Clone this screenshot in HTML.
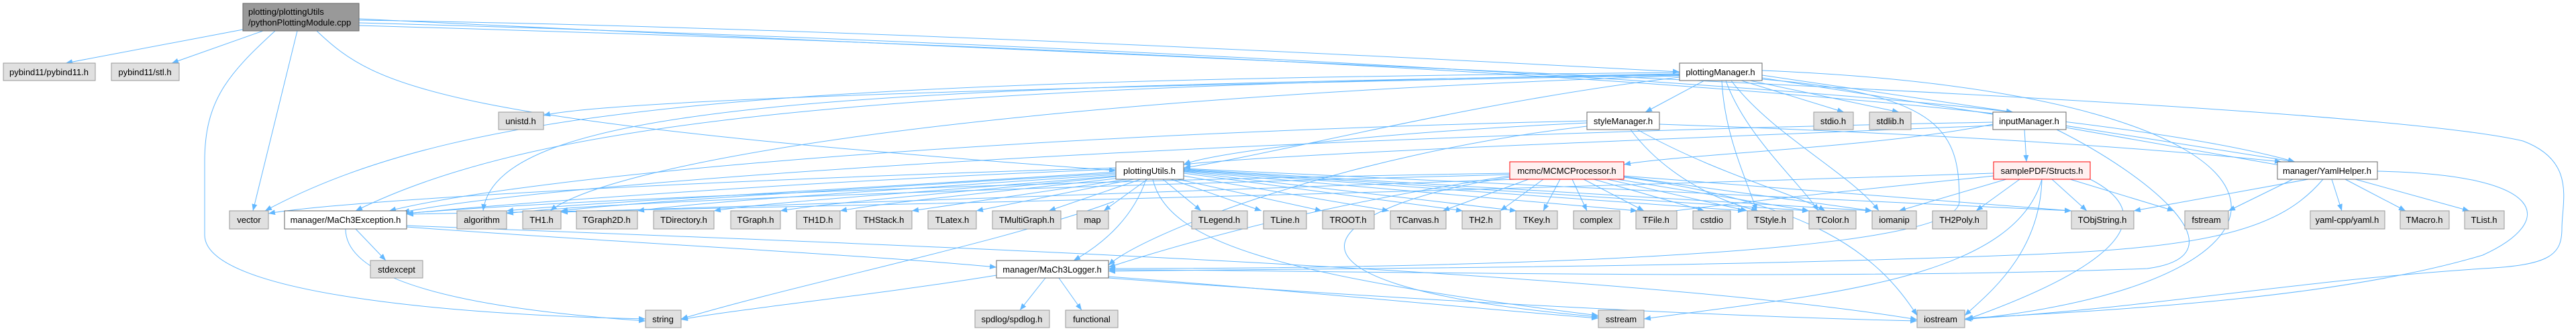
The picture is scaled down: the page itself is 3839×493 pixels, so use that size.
<!DOCTYPE html>
<html><head><meta charset="utf-8"><style>
html,body{margin:0;padding:0;background:#fff;}
svg{display:block;}
text{font-family:"Liberation Sans",sans-serif;font-size:13px;fill:#000;text-anchor:middle;}
.g{fill:#e0e0e0;stroke:#999;stroke-width:1;}
.w{fill:#fff;stroke:#666;stroke-width:1;}
.r{fill:#fff0f0;stroke:#f00;stroke-width:1;}
.d{fill:#999;stroke:#666;stroke-width:1;}
.e{fill:none;stroke:#63b8ff;stroke-width:1;}
</style></head><body>
<svg width="3839" height="493" viewBox="0 0 3839 493" xmlns="http://www.w3.org/2000/svg">
<defs><marker id="a" markerUnits="userSpaceOnUse" markerWidth="11" markerHeight="8" refX="10" refY="4" orient="auto"><path d="M0,0 L10,4 L0,8 z" fill="#63b8ff"/></marker></defs>
<g class="e" marker-end="url(#a)">
<!-- top -->
<path d="M362,44 L98,94"/>
<path d="M392,46 L256,94"/>
<path d="M443,46 L377,314"/>
<path d="M410,46 C340,110 305,150 305,240 L305,350 C305,440 700,470 962,475"/>
<path d="M472,46 C560,130 650,180 1663,254"/>
<path d="M535,30 C1200,40 2000,80 2503,107"/>
<path d="M535,34 C1500,60 2600,120 3000,167"/>
<path d="M535,38 C2000,80 3100,150 3420,241"/>
<path d="M535,28 C2000,100 3500,150 3760,210 C3840,240 3818,300 3818,340 C3818,380 3800,395 3700,400 C3400,420 3200,460 2928,475"/>
<!-- plottingManager -->
<path d="M2540,120 L2452,167"/>
<path d="M2595,120 L2748,167"/>
<path d="M2608,120 L2830,167"/>
<path d="M2626,112 L3000,167"/>
<path d="M2626,116 L3420,241"/>
<path d="M2566,120 C2570,200 2600,260 2618,314"/>
<path d="M2572,120 C2600,200 2680,270 2710,314"/>
<path d="M2580,120 C2640,200 2760,260 2800,314"/>
<path d="M2503,112 C1500,130 900,150 810,172"/>
<path d="M2503,108 C1200,120 700,150 395,314"/>
<path d="M2503,110 C1300,130 800,180 530,314"/>
<path d="M2503,111 C1300,130 740,150 720,314"/>
<path d="M2503,113 C1400,150 900,250 820,314"/>
<path d="M2626,118 C2900,140 2920,200 2920,300 C2920,400 1800,400 1652,400"/>
<path d="M2626,105 C3500,140 3500,420 2928,476"/>
<path d="M2503,115 C2200,150 1900,230 1764,250"/>
<!-- styleManager -->
<path d="M2430,193 C2480,260 2560,300 2620,314"/>
<path d="M2440,193 C2560,260 2680,290 2720,314"/>
<path d="M2365,180 C1500,200 800,260 580,314"/>
<path d="M2365,183 C2000,200 1800,230 1764,245"/>
<path d="M2473,185 C2900,200 3200,220 3400,241"/>
<path d="M2365,188 C2000,230 1700,350 1652,395"/>
<!-- inputManager -->
<path d="M3017,193 L3020,241"/>
<path d="M3079,190 L3420,250"/>
<path d="M2970,185 C2800,220 2500,230 2420,245"/>
<path d="M2970,187 C2400,210 1900,230 1764,245"/>
<path d="M3065,193 C3200,260 3350,380 3200,400 C2700,420 1800,400 1652,402"/>
<path d="M2970,182 C2000,200 900,260 600,316"/>
<!-- plottingUtils -->
<path d="M1663,250 C1000,270 500,300 400,318"/>
<path d="M1663,252 C1200,270 800,300 606,318"/>
<path d="M1663,256 C1300,280 900,300 755,314"/>
<path d="M1663,258 C1300,280 950,300 836,314"/>
<path d="M1663,260 C1300,285 1050,300 950,314"/>
<path d="M1663,262 C1400,285 1150,300 1064,314"/>
<path d="M1663,263 C1450,285 1250,300 1163,314"/>
<path d="M1670,265 C1500,285 1330,300 1252,314"/>
<path d="M1680,267 L1359,314"/>
<path d="M1690,267 L1455,314"/>
<path d="M1700,267 L1563,314"/>
<path d="M1710,267 L1645,314"/>
<path d="M1733,267 L1790,314"/>
<path d="M1745,267 L1880,314"/>
<path d="M1755,267 L1970,314"/>
<path d="M1764,262 L2070,314"/>
<path d="M1764,258 L2180,314"/>
<path d="M1764,256 L2260,314"/>
<path d="M1764,255 L2440,314"/>
<path d="M1764,254 L2600,314"/>
<path d="M1764,253 L2696,314"/>
<path d="M1764,252 L2790,314"/>
<path d="M1764,251 L3087,314"/>
<path d="M1708,267 C1690,320 1650,360 1600,388"/>
<path d="M1718,267 C1740,360 1900,410 2382,470"/>
<path d="M1660,300 C1500,360 1200,420 1015,475"/>
<!-- MCMC -->
<path d="M2250,258 C1500,270 800,300 606,318"/>
<path d="M2250,260 C1500,280 900,300 755,318"/>
<path d="M2260,267 C2000,280 1300,300 836,316"/>
<path d="M2278,267 L2150,314"/>
<path d="M2300,267 L2236,314"/>
<path d="M2325,267 L2300,314"/>
<path d="M2343,267 L2365,314"/>
<path d="M2360,267 L2450,314"/>
<path d="M2375,267 L2540,314"/>
<path d="M2395,267 L2604,314"/>
<path d="M2410,267 L2696,314"/>
<path d="M2420,263 L2790,314"/>
<path d="M2420,262 L3087,314"/>
<path d="M2250,262 C2000,300 1800,350 1652,398"/>
<path d="M2250,264 C2000,300 1800,420 2382,472"/>
<path d="M2420,264 C2700,300 2800,380 2857,470"/>
<!-- Structs -->
<path d="M2990,267 L2830,314"/>
<path d="M3010,267 L2945,314"/>
<path d="M3058,267 L3110,314"/>
<path d="M3085,267 L3240,314"/>
<path d="M3043,267 C3040,380 2960,440 2928,470"/>
<path d="M3115,267 C3200,310 3200,380 2930,476"/>
<path d="M2971,258 C2600,270 1700,300 606,319"/>
<path d="M2971,262 C2700,290 2600,300 2450,320"/>
<path d="M3043,267 C3000,420 2700,440 2450,475"/>
<!-- Yaml -->
<path d="M3417,267 L3321,314"/>
<path d="M3440,267 L3180,314"/>
<path d="M3475,267 L3490,314"/>
<path d="M3495,267 L3585,314"/>
<path d="M3510,267 L3680,314"/>
<path d="M3543,255 C3800,260 3810,330 3700,380 C3500,440 3200,460 2930,474"/>
<path d="M3462,267 C3400,340 3300,370 3000,380 C2500,400 1900,400 1652,404"/>
<!-- Exception -->
<path d="M530,341 L575,388"/>
<path d="M515,341 C515,420 700,460 962,478"/>
<path d="M606,338 C900,360 1300,380 1485,398"/>
<path d="M606,336 C1200,360 2400,400 2857,476"/>
<!-- Logger -->
<path d="M1558,414 L1520,462"/>
<path d="M1578,414 L1612,462"/>
<path d="M1485,410 C1300,440 1100,460 1015,476"/>
<path d="M1652,412 C1900,430 2200,460 2382,474"/>
<path d="M1652,414 C2000,440 2500,470 2857,478"/>
</g>
<!-- nodes -->
<rect class="d" x="362" y="5" width="173" height="41"/><text x="370" y="22" style="text-anchor:start">plotting/plottingUtils</text><text x="370" y="38" style="text-anchor:start">/pythonPlottingModule.cpp</text>
<g>
<rect class="g" x="5" y="94" width="137" height="26"/><text x="73" y="112">pybind11/pybind11.h</text>
<rect class="g" x="166" y="94" width="101" height="26"/><text x="216" y="112">pybind11/stl.h</text>
<rect class="g" x="743" y="167" width="67" height="26"/><text x="776" y="185">unistd.h</text>
<rect class="w" x="2503" y="94" width="123" height="26"/><text x="2564" y="112">plottingManager.h</text>
<rect class="w" x="2365" y="167" width="108" height="26"/><text x="2419" y="185">styleManager.h</text>
<rect class="g" x="2703" y="167" width="59" height="26"/><text x="2732" y="185">stdio.h</text>
<rect class="g" x="2786" y="167" width="62" height="26"/><text x="2817" y="185">stdlib.h</text>
<rect class="w" x="2970" y="167" width="109" height="26"/><text x="3024" y="185">inputManager.h</text>
<rect class="w" x="1663" y="241" width="101" height="26"/><text x="1713" y="259">plottingUtils.h</text>
<rect class="r" x="2250" y="241" width="170" height="26"/><text x="2335" y="259">mcmc/MCMCProcessor.h</text>
<rect class="r" x="2971" y="241" width="144" height="26"/><text x="3043" y="259">samplePDF/Structs.h</text>
<rect class="w" x="3394" y="241" width="149" height="26"/><text x="3468" y="259">manager/YamlHelper.h</text>
<rect class="g" x="342" y="314" width="58" height="27"/><text x="371" y="332">vector</text>
<rect class="w" x="424" y="314" width="182" height="27"/><text x="515" y="332">manager/MaCh3Exception.h</text>
<rect class="g" x="681" y="314" width="74" height="27"/><text x="718" y="332">algorithm</text>
<rect class="g" x="779" y="314" width="57" height="27"/><text x="807" y="332">TH1.h</text>
<rect class="g" x="859" y="314" width="91" height="27"/><text x="904" y="332">TGraph2D.h</text>
<rect class="g" x="974" y="314" width="90" height="27"/><text x="1019" y="332">TDirectory.h</text>
<rect class="g" x="1089" y="314" width="74" height="27"/><text x="1126" y="332">TGraph.h</text>
<rect class="g" x="1187" y="314" width="65" height="27"/><text x="1219" y="332">TH1D.h</text>
<rect class="g" x="1276" y="314" width="83" height="27"/><text x="1317" y="332">THStack.h</text>
<rect class="g" x="1383" y="314" width="72" height="27"/><text x="1419" y="332">TLatex.h</text>
<rect class="g" x="1479" y="314" width="102" height="27"/><text x="1530" y="332">TMultiGraph.h</text>
<rect class="g" x="1605" y="314" width="47" height="27"/><text x="1628" y="332">map</text>
<rect class="g" x="1776" y="314" width="83" height="27"/><text x="1817" y="332">TLegend.h</text>
<rect class="g" x="1883" y="314" width="64" height="27"/><text x="1915" y="332">TLine.h</text>
<rect class="g" x="1971" y="314" width="77" height="27"/><text x="2009" y="332">TROOT.h</text>
<rect class="g" x="2072" y="314" width="83" height="27"/><text x="2113" y="332">TCanvas.h</text>
<rect class="g" x="2179" y="314" width="57" height="27"/><text x="2207" y="332">TH2.h</text>
<rect class="g" x="2259" y="314" width="62" height="27"/><text x="2290" y="332">TKey.h</text>
<rect class="g" x="2345" y="314" width="69" height="27"/><text x="2379" y="332">complex</text>
<rect class="g" x="2438" y="314" width="61" height="27"/><text x="2468" y="332">TFile.h</text>
<rect class="g" x="2523" y="314" width="56" height="27"/><text x="2551" y="332">cstdio</text>
<rect class="g" x="2604" y="314" width="68" height="27"/><text x="2638" y="332">TStyle.h</text>
<rect class="g" x="2696" y="314" width="70" height="27"/><text x="2731" y="332">TColor.h</text>
<rect class="g" x="2790" y="314" width="66" height="27"/><text x="2823" y="332">iomanip</text>
<rect class="g" x="2880" y="314" width="81" height="27"/><text x="2920" y="332">TH2Poly.h</text>
<rect class="g" x="3087" y="314" width="93" height="27"/><text x="3133" y="332">TObjString.h</text>
<rect class="g" x="3256" y="314" width="65" height="27"/><text x="3288" y="332">fstream</text>
<rect class="g" x="3443" y="314" width="111" height="27"/><text x="3498" y="332">yaml-cpp/yaml.h</text>
<rect class="g" x="3577" y="314" width="73" height="27"/><text x="3613" y="332">TMacro.h</text>
<rect class="g" x="3673" y="314" width="59" height="27"/><text x="3702" y="332">TList.h</text>
<rect class="g" x="552" y="388" width="78" height="26"/><text x="591" y="406">stdexcept</text>
<rect class="w" x="1485" y="388" width="167" height="26"/><text x="1568" y="406">manager/MaCh3Logger.h</text>
<rect class="g" x="962" y="462" width="53" height="26"/><text x="988" y="480">string</text>
<rect class="g" x="1453" y="462" width="111" height="26"/><text x="1508" y="480">spdlog/spdlog.h</text>
<rect class="g" x="1588" y="462" width="78" height="26"/><text x="1627" y="480">functional</text>
<rect class="g" x="2382" y="462" width="68" height="26"/><text x="2416" y="480">sstream</text>
<rect class="g" x="2857" y="462" width="71" height="26"/><text x="2892" y="480">iostream</text>
</g>
</svg>
</body></html>
